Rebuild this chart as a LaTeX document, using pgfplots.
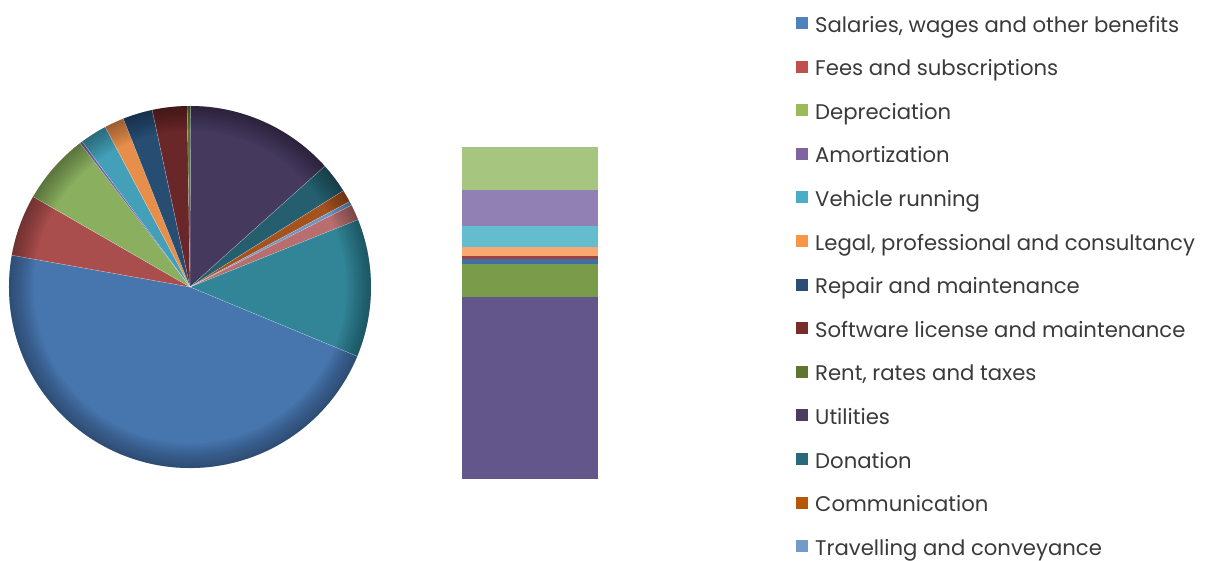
\documentclass[border=0pt]{standalone}
\usepackage{fontspec}
\setmainfont{Poppins}
\usepackage{pgfplots}
\usepackage{pgfplotstable}
\pgfplotsset{compat=1.18}
% pie slice colours
\definecolor{pc0}{HTML}{4775AE}
\definecolor{pc1}{HTML}{A94E4D}
\definecolor{pc2}{HTML}{8AAF5E}
\definecolor{pc3}{HTML}{7560A0}
\definecolor{pc4}{HTML}{43A0B8}
\definecolor{pc5}{HTML}{E88E4B}
\definecolor{pc6}{HTML}{274D73}
\definecolor{pc7}{HTML}{692729}
\definecolor{pc8}{HTML}{5B7432}
\definecolor{pc9}{HTML}{45395E}
\definecolor{pc10}{HTML}{255F6F}
\definecolor{pc11}{HTML}{A4531E}
\definecolor{pc12}{HTML}{6C95C6}
\definecolor{pc13}{HTML}{B86E6E}
\definecolor{pc14}{HTML}{328497}
% bar colours
\definecolor{b1}{HTML}{63568A}
\definecolor{b2}{HTML}{7A9B4A}
\definecolor{b3}{HTML}{3F6FA3}
\definecolor{b4}{HTML}{A0403F}
\definecolor{b5}{HTML}{F8A870}
\definecolor{b6}{HTML}{64BCCF}
\definecolor{b7}{HTML}{9080B4}
\definecolor{b8}{HTML}{A6C67F}
% legend colours
\definecolor{l1}{HTML}{4F81BD}
\definecolor{l2}{HTML}{C0504D}
\definecolor{l3}{HTML}{9BBB59}
\definecolor{l4}{HTML}{8064A2}
\definecolor{l5}{HTML}{4BACC6}
\definecolor{l6}{HTML}{F79646}
\definecolor{l7}{HTML}{2C4D75}
\definecolor{l8}{HTML}{772C2A}
\definecolor{l9}{HTML}{5F7530}
\definecolor{l10}{HTML}{4D3B62}
\definecolor{l11}{HTML}{276A7C}
\definecolor{l12}{HTML}{B65708}
\definecolor{l13}{HTML}{729ACA}
\definecolor{txt}{HTML}{3A3A3A}

\pgfplotstableread{
id value
0 46.5
1 5.5
2 6.3
3 0.22
4 2.4
5 1.75
6 2.65
7 3.1
8 0.3
9 13.3
10 2.7
11 1.1
12 0.36
13 1.4
14 12.3
}\piedata

\begin{document}
\begin{tikzpicture}
\useasboundingbox (0pt,0pt) rectangle (1205pt,561pt);
% cumulative angles
\gdef\tot{0}
\foreach \i in {0,...,14}{%
  \pgfplotstablegetelem{\i}{value}\of\piedata
  \pgfmathsetmacro\t{\tot+\pgfplotsretval}%
  \global\let\tot\t}
\gdef\cum{0}
\foreach \i in {0,...,14}{%
  \pgfplotstablegetelem{\i}{value}\of\piedata
  \let\v\pgfplotsretval
  \pgfmathsetmacro\sa{90-112.5-(\cum/\tot)*360}%
  \pgfmathsetmacro\nc{\cum+\v}%
  \pgfmathsetmacro\ea{90-112.5-(\nc/\tot)*360}%
  \expandafter\xdef\csname pa\i\endcsname{\sa}%
  \expandafter\xdef\csname pb\i\endcsname{\ea}%
  \global\let\cum\nc}

\begin{axis}[at={(9pt,93pt)}, anchor=south west, scale only axis,
  width=362pt, height=362pt, hide axis,
  xmin=-1, xmax=1, ymin=-1, ymax=1, clip=false]
\pgfplotsinvokeforeach{0,...,14}{
  \fill[pc#1] (axis cs:0,0) -- ++(\csname pa#1\endcsname:181pt)
    arc[start angle=\csname pa#1\endcsname, end angle=\csname pb#1\endcsname, radius=181pt] -- cycle;
}
\pgfplotsinvokeforeach{1,...,12}{
  \fill[black, fill opacity=0.03, even odd rule] (axis cs:0,0) circle[radius=181pt]
     (axis cs:0,0) circle[radius={183pt-2.2pt*#1}];
}
\pgfplotsinvokeforeach{0,...,14}{
  \draw[white, draw opacity=0.45, line width=0.4pt] (axis cs:0,0) -- ++(\csname pa#1\endcsname:181pt);
}
\end{axis}

\begin{axis}[at={(462pt,82pt)}, anchor=south west, scale only axis,
  width=136pt, height=332pt, hide axis, ybar stacked, bar width=136pt,
  xmin=-0.5, xmax=0.5, ymin=0, ymax=332]
\addplot[fill=b1, draw=none] coordinates {(0,182)};
\addplot[fill=b2, draw=none] coordinates {(0,33.3)};
\addplot[fill=b3, draw=none] coordinates {(0,4.4)};
\addplot[fill=b4, draw=none] coordinates {(0,3.3)};
\addplot[fill=b5, draw=none] coordinates {(0,9)};
\addplot[fill=b6, draw=none] coordinates {(0,21)};
\addplot[fill=b7, draw=none] coordinates {(0,36)};
\addplot[fill=b8, draw=none] coordinates {(0,43)};
\end{axis}

\begin{axis}[at={(796pt,545pt)}, anchor=north west, scale only axis,
  width=1pt, height=1pt, hide axis, xmin=0, xmax=1, ymin=0, ymax=1,
  legend image code/.code={\fill[#1, draw=none] (0pt,-2.5pt) rectangle (12pt,9.5pt); \path (19pt,0pt);},
  legend cell align=left,
  legend style={at={(0,1)}, anchor=north west, draw=none, fill=none,
    inner sep=0pt, outer sep=0pt, row sep=22.6pt, column sep=0pt,
    font=\fontsize{21.2}{24}\selectfont, text=txt,
    nodes={inner sep=0pt, text height=16pt, text depth=5pt}}]
\addlegendimage{fill=l1}\addlegendentry{Salaries, wages and other benefits}
\addlegendimage{fill=l2}\addlegendentry{Fees and subscriptions}
\addlegendimage{fill=l3}\addlegendentry{Depreciation}
\addlegendimage{fill=l4}\addlegendentry{Amortization}
\addlegendimage{fill=l5}\addlegendentry{Vehicle running}
\addlegendimage{fill=l6}\addlegendentry{Legal, professional and consultancy}
\addlegendimage{fill=l7}\addlegendentry{Repair and maintenance}
\addlegendimage{fill=l8}\addlegendentry{Software license and maintenance}
\addlegendimage{fill=l9}\addlegendentry{Rent, rates and taxes}
\addlegendimage{fill=l10}\addlegendentry{Utilities}
\addlegendimage{fill=l11}\addlegendentry{Donation}
\addlegendimage{fill=l12}\addlegendentry{Communication}
\addlegendimage{fill=l13}\addlegendentry{Travelling and conveyance}
\end{axis}
\end{tikzpicture}
\end{document}
